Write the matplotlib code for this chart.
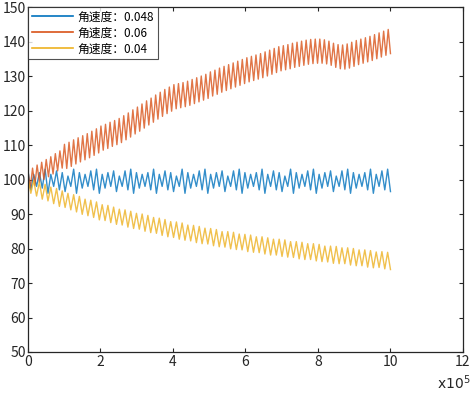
import matplotlib
matplotlib.use("Agg")
import matplotlib.pyplot as plt
import numpy as np

plt.rcParams['font.family'] = ['Noto Sans CJK SC', 'DejaVu Sans']

# x extent of the data in units of 1e5
x_end = 10

# local maxima / minima (one pair per oscillation cycle)
blue_peaks = [102.5, 101.5, 102, 103, 101.5, 102.5, 102, 101, 103, 102, 101.5, 102.5, 103, 101.5, 102, 102.5,
              101, 102.5, 103, 102, 101.5, 102, 103, 101.5, 102.5, 102, 101, 103, 102, 101.5, 102.5, 103,
              101.5, 102, 102.5, 101, 102.5, 103, 102, 101.5, 102, 103, 101.5, 102.5, 102, 101, 103, 102,
              101.5, 102.5, 103, 101.5, 102, 102.5, 101, 102.5, 103, 102, 101.5, 102, 103, 101.5, 102.5, 103]
blue_troughs = [97, 98, 97.5, 96, 98, 97, 96.5, 98, 96, 97.5, 98, 97, 96, 97.5, 98, 96.5,
                98, 97, 96, 97.5, 98, 97, 96, 98, 97, 96.5, 98, 96, 97.5, 98, 97, 96,
                97.5, 98, 96.5, 98, 97, 96, 97.5, 98, 97, 96, 98, 97, 96.5, 98, 96, 97.5,
                98, 97, 96, 97.5, 98, 96.5, 98, 97, 96, 97.5, 98, 97, 96, 98, 97, 96.5]

orange_peaks = [102.5, 103.3, 104.2, 105, 105.8, 106.6, 107.5, 108.3,
                110.2, 110.8, 111.5, 112.1, 112.7, 113.3, 114, 114.7,
                115.5, 116, 116.6, 117.1, 117.7, 118.5, 119.3, 120.2,
                121, 121.9, 122.8, 123.6, 124.5, 125.3, 126.1, 126.8,
                127.5, 127.8, 128.1, 128.5, 129, 129.5, 130, 130.5,
                131.2, 131.7, 132.3, 132.8, 133.3, 133.8, 134.3, 134.8,
                135.3, 135.7, 136.1, 136.5, 137, 137.5, 138, 138.5,
                138.8, 139.1, 139.5, 139.8, 140.1, 140.4, 140.6, 140.7,
                140.7, 140.5, 140.1, 139.5, 139.1, 139, 139.3, 139.8,
                140.3, 140.7, 141.1, 141.5, 142, 142.5, 143, 143.5]
orange_troughs = [97.5, 98.3, 99.2, 100, 100.8, 101.6, 102.5, 103.3,
                  103.2, 103.8, 104.5, 105.1, 105.7, 106.3, 107, 107.7,
                  108.5, 109, 109.6, 110.1, 110.7, 111.5, 112.3, 113.2,
                  114, 114.9, 115.8, 116.6, 117.5, 118.3, 119.1, 119.8,
                  120.5, 120.8, 121.1, 121.5, 122, 122.5, 123, 123.5,
                  124.2, 124.7, 125.3, 125.8, 126.3, 126.8, 127.3, 127.8,
                  128.3, 128.7, 129.1, 129.5, 130, 130.5, 131, 131.5,
                  131.8, 132.1, 132.5, 132.8, 133.1, 133.4, 133.6, 133.7,
                  133.7, 133.5, 133.1, 132.5, 132.1, 132, 132.3, 132.8,
                  133.3, 133.7, 134.1, 134.5, 135, 135.5, 136, 136.5]

yellow_peaks = [100.3, 99.7, 99.3, 98.6, 97.8, 97.4, 96.7, 96, 95.6, 95.1, 94.3, 94, 93.5, 92.7, 92.5, 92,
                91.4, 91.2, 90.8, 90.2, 90, 89.6, 89, 88.8, 88.4, 87.8, 87.7, 87.4, 86.8, 86.7, 86.4, 85.9,
                85.8, 85.5, 84.9, 84.9, 84.7, 84.2, 84.1, 83.9, 83.4, 83.4, 83.1, 82.7, 82.7, 82.5, 82, 82,
                81.8, 81.4, 81.4, 81.2, 80.7, 80.7, 80.6, 80.2, 80.2, 80, 79.6, 79.6, 79.4, 79, 79.1, 78.9]
yellow_troughs = [96, 95.2, 94.3, 93.8, 93, 92.2, 91.9, 91.2, 90.6, 89.9, 89.5, 89, 88.3, 88.1, 87.5, 87,
                  86.8, 86.2, 85.8, 85.6, 85, 84.6, 84.4, 83.8, 83.4, 83.2, 82.7, 82.4, 82.2, 81.7, 81.4, 81.3,
                  80.8, 80.5, 80.4, 79.9, 79.7, 79.6, 79.1, 78.9, 78.8, 78.4, 78.1, 78.1, 77.7, 77.5, 77.4, 77,
                  76.8, 76.8, 76.4, 76.2, 76.1, 75.7, 75.6, 75.6, 75.2, 75, 75, 74.6, 74.4, 74.5, 74.1, 73.9]

labels = ['角速度：0.048', '角速度：0.06', '角速度：0.04']
colors = ['#0072BD', '#D95319', '#EDB120']
x_ticks = [0, 2, 4, 6, 8, 10, 12]
y_ticks = [50, 60, 70, 80, 90, 100, 110, 120, 130, 140, 150]


def zigzag(peaks, troughs):
    vals = []
    for p, t in zip(peaks, troughs):
        vals.extend([p, t])
    vals = np.array(vals, dtype=float)
    xs = np.linspace(0, x_end, len(vals))
    return xs, vals


fig = plt.figure(figsize=(4.72, 3.94), dpi=100)
ax = fig.add_axes([0.0593, 0.1066, 0.9216, 0.8756])

series = [(blue_peaks, blue_troughs), (orange_peaks, orange_troughs), (yellow_peaks, yellow_troughs)]
for (pk, tr), c, lab in zip(series, colors, labels):
    xs, ys = zigzag(pk, tr)
    ax.plot(xs, ys, color=c, lw=1.0, alpha=0.8, label=lab)

ax.set_xlim(0, 12)
ax.set_ylim(50, 150)
ax.set_xticks(x_ticks)
ax.set_yticks(y_ticks)
ax.tick_params(direction='in', length=3, width=0.8, top=True, right=True,
               labelsize=10, colors='#262626', pad=2)
ax.tick_params(axis='y', pad=1.5)
for s in ax.spines.values():
    s.set_color('#262626')
    s.set_linewidth(0.9)

leg = ax.legend(loc='upper left', fontsize=8.5, frameon=True, fancybox=False,
                borderaxespad=0, handlelength=3.5, handletextpad=0.4,
                borderpad=0.3, labelspacing=0.25)
leg.get_frame().set_edgecolor('#262626')
leg.get_frame().set_linewidth(0.8)
for h in leg.get_lines():
    h.set_alpha(1)
    h.set_linewidth(1.2)

fig.text(0.997, 0.004, r'x10$^5$', ha='right', va='bottom', fontsize=10, color='#262626',
         family='DejaVu Sans')

fig.savefig('out.png', dpi=100)
